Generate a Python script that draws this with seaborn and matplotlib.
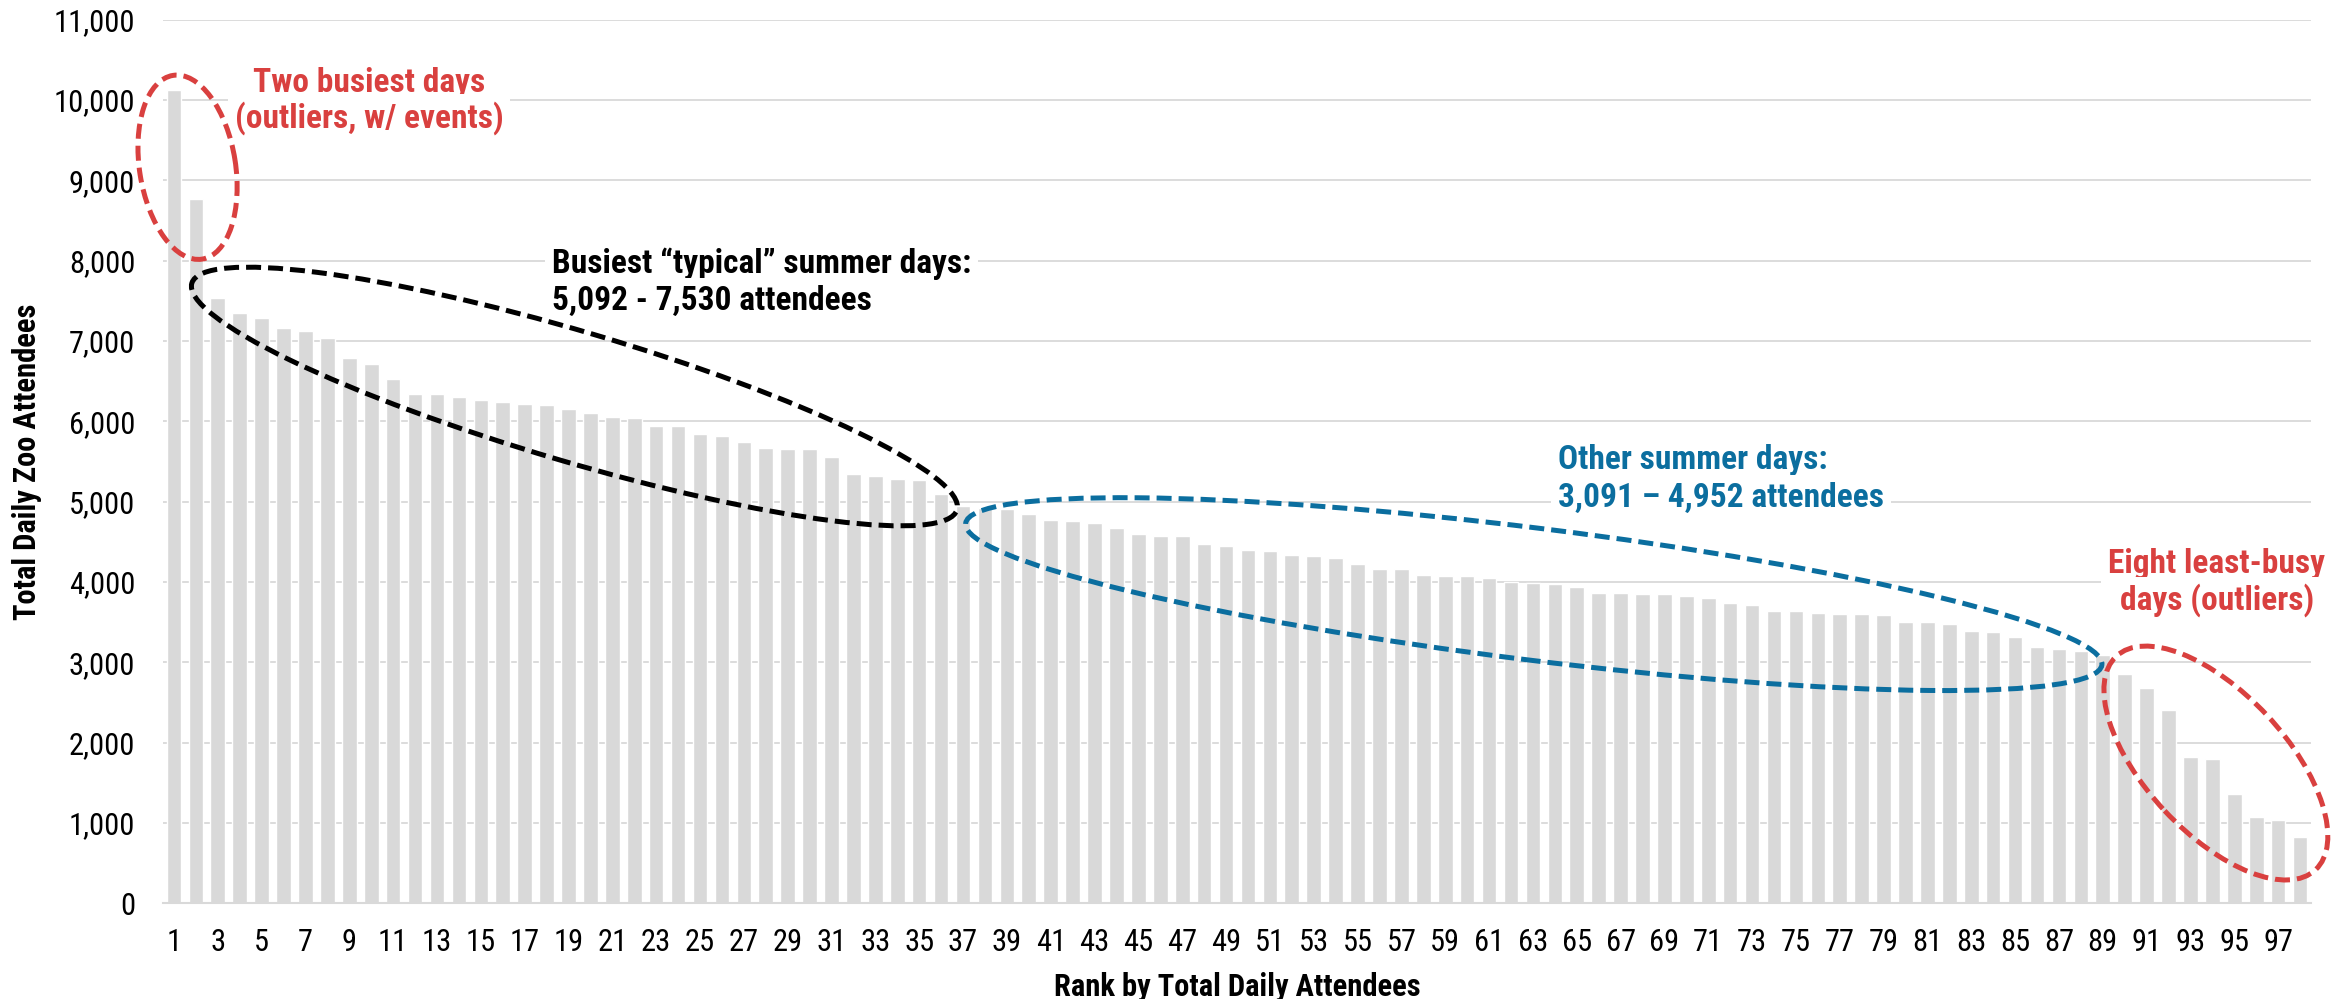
import matplotlib
matplotlib.use("Agg")
import matplotlib.pyplot as plt
import matplotlib.transforms as mtransforms
from matplotlib import font_manager
from matplotlib.patches import Ellipse
import seaborn as sns

# daily attendance, sorted from busiest to least busy
ranks = list(range(1, 99))
attendees = [
    10130, 8770, 7530, 7350, 7290, 7160, 7120, 7040, 6790, 6715,
    6530, 6340, 6335, 6305, 6270, 6240, 6220, 6200, 6150, 6105,
    6050, 6040, 5946, 5938, 5846, 5822, 5739, 5672, 5656, 5651,
    5552, 5340, 5315, 5286, 5274, 5092, 4952, 4925, 4905, 4850,
    4775, 4765, 4740, 4676, 4598, 4573, 4572, 4469, 4452, 4402,
    4390, 4340, 4328, 4295, 4220, 4166, 4162, 4091, 4079, 4078,
    4054, 3998, 3993, 3975, 3942, 3867, 3866, 3855, 3851, 3830,
    3801, 3743, 3718, 3643, 3635, 3618, 3606, 3598, 3585, 3500,
    3499, 3483, 3384, 3373, 3320, 3195, 3162, 3135, 3091, 2859,
    2685, 2402, 1826, 1797, 1365, 1075, 1033, 830,
]
y_ticks = list(range(0, 11001, 1000))

RED = "#D9403F"
BLUE = "#0B6E9F"
GREY = "#D9D9D9"

sns.set_style("white")
installed = {f.name for f in font_manager.fontManager.ttflist}
narrow = next((f for f in ["Roboto Condensed", "Liberation Sans Narrow", "DejaVu Sans Condensed"]
               if f in installed), "DejaVu Sans")
plt.rcParams["font.family"] = [narrow, "DejaVu Sans"]
plt.rcParams["text.color"] = "black"
plt.rcParams["axes.labelcolor"] = "black"

fig = plt.figure(figsize=(23.46, 9.99), dpi=100)
ax = fig.add_axes([163 / 2346, 1 - 903.3 / 999, 2148 / 2346, 883.6 / 999])

sns.barplot(x=ranks, y=attendees, color=GREY, width=0.667, saturation=1, ax=ax, zorder=2)

ax.set_xlim(-0.5, len(ranks) - 0.5)
ax.set_ylim(0, 11000)
ax.set_yticks(y_ticks)
ax.set_yticklabels([f"{v:,}" for v in y_ticks])
ax.set_xticks(range(0, len(ranks), 2))
ax.set_xticklabels([str(r) for r in ranks[::2]])
ax.tick_params(axis="both", length=0, labelsize=22, labelcolor="black")
ax.tick_params(axis="y", pad=20)
ax.tick_params(axis="x", pad=18)

ax.yaxis.grid(True, color=GREY, lw=1.3)
ax.set_axisbelow(True)
for side in ["top", "right", "left"]:
    ax.spines[side].set_visible(False)
ax.spines["bottom"].set_color(GREY)
ax.spines["bottom"].set_linewidth(1.5)

ax.set_xlabel("Rank by Total Daily Attendees", fontsize=22, fontweight="bold", va="center")
ax.set_ylabel("Total Daily Zoo Attendees", fontsize=22, fontweight="bold", va="center")
ax.xaxis.set_label_coords(0.5, -0.0947)
ax.yaxis.set_label_coords(-0.0633, 0.5)

# callout rings: centre in data units, size in pixels
rings = [
    (0.62, 9163, 186, 96, 99, RED),
    (18.27, 6309, 798, 130, -16.5, "black"),
    (62.04, 3849, 1145, 132, -7.1, BLUE),
    (93.16, 1746, 292, 140, -47, RED),
]
for cx, cy, w, h, ang, col in rings:
    px, py = ax.transData.transform((cx, cy))
    ax.add_artist(Ellipse((px, py), w, h, angle=ang, fill=False, edgecolor=col, lw=3.6,
                          linestyle=(0, (3, 1.4)), transform=mtransforms.IdentityTransform(),
                          clip_on=False, zorder=6))

box = dict(facecolor="white", edgecolor="none", pad=5)
notes = [
    (8.9, 10100, "Two busiest days", "center", RED),
    (8.9, 9662, "(outliers, w/ events)", "center", RED),
    (17.24, 7844, "Busiest \u201ctypical\u201d summer days:", "left", "black"),
    (17.24, 7383, "5,092 - 7,530 attendees", "left", "black"),
    (63.14, 5406, "Other summer days:", "left", BLUE),
    (63.14, 4933, "3,091 \u2013 4,952 attendees", "left", BLUE),
    (93.2, 4112, "Eight least-busy", "center", RED),
    (93.2, 3651, "days (outliers)", "center", RED),
]
for x, y, s, ha, col in notes:
    ax.text(x, y, s, ha=ha, va="baseline", color=col, fontsize=24, fontweight="bold",
            bbox=box, zorder=4)

fig.savefig("out.png", dpi=100)
